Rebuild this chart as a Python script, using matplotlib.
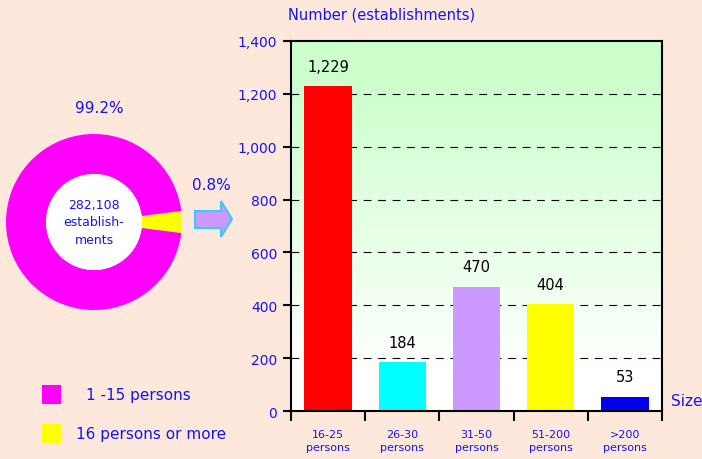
#necessary import statements
import numpy as np
import matplotlib.pyplot as plt
from matplotlib.patches import Rectangle, Polygon, Circle

#chart data
size_groups = ["16-25\npersons", "26-30\npersons", "31-50\npersons", "51-200\npersons", ">200\npersons"]
establishments = [1229, 184, 470, 404, 53]
bar_colors = ["#FF0000", "#00FFFF", "#CC99FF", "#FFFF00", "#0000EE"]

pie_groups = ["16 persons or more", "1 -15 persons"]
pie_labels = ["0.8%", "99.2%"]
pie_drawn = [4.0, 96.0]   # the slice is drawn larger than 0.8% in the picture
pie_colors = ["#FFFF00", "#FF00FF"]
total_text = "282,108\nestablish-\nments"

y_ticks = [0, 200, 400, 600, 800, 1000, 1200, 1400]

BG = "#FDE8DB"
BLUE = "#1414F5"
W, H = 702, 460

def fx(px):
    return px / W

def fy(py):
    return 1 - py / H

fig = plt.figure(figsize=(7.02, 4.6), dpi=100, facecolor=BG)

#bar chart
ax = fig.add_axes([fx(291), fy(412), fx(662) - fx(291), fy(42) - fy(412)])
x = np.arange(len(establishments))
grad = np.linspace(0, 1, 256).reshape(-1, 1)
green = np.array([204, 255, 204]) / 255
white = np.array([1.0, 1.0, 1.0])
t = np.clip((grad - 0.1) / 0.8, 0, 1)
img = white * (1 - t[..., None]) + green * t[..., None]
img = img.reshape(256, 1, 3)
ax.imshow(img, extent=[-0.5, len(x) - 0.5, 0, 1400], origin="lower", aspect="auto", zorder=0)

for yv in y_ticks[1:-1]:
    ax.axhline(yv, color="black", lw=0.8, ls=(0, (7, 6)), zorder=1)

ax.bar(x, establishments, width=0.64, color=bar_colors, zorder=2)
for xi, v in zip(x, establishments):
    ax.annotate(f"{v:,}", (xi, v), xytext=(0, 9), textcoords="offset points",
                ha="center", va="bottom", fontsize=10.5, color="black")

ax.set_xlim(-0.5, len(x) - 0.5)
ax.set_ylim(0, 1400)
ax.set_yticks(y_ticks)
ax.set_yticklabels([f"{v:,}" for v in y_ticks], color=BLUE, fontsize=10)
ax.tick_params(axis="y", length=6, width=1.5, pad=4)
ax.set_xticks(np.arange(len(x) + 1) - 0.5)
ax.set_xticklabels([])
ax.tick_params(axis="x", which="major", length=7, width=1.5, direction="out")
ax.set_xticks(x, minor=True)
ax.set_xticklabels(size_groups, minor=True, color=BLUE, fontsize=8, linespacing=1.4)
ax.tick_params(axis="x", which="minor", length=0, pad=13)
for s in ax.spines.values():
    s.set_linewidth(1.5)
    s.set_color("black")

fig.text(fx(288), fy(15), "Number (establishments)", color=BLUE, fontsize=10.5, va="center", ha="left")
fig.text(fx(671), fy(402), "Size", color=BLUE, fontsize=11, va="center", ha="left")

#donut chart
cx, cy, r = 94, 223, 90
axp = fig.add_axes([fx(cx - r), fy(cy + r), fx(2 * r), fy(cy - r) - fy(cy + r)])
axp.pie(pie_drawn, colors=pie_colors, startangle=-pie_drawn[0] * 3.6 / 2, counterclock=True,
        radius=88 / 90, wedgeprops=dict(width=40 / 90, edgecolor="none"))
axp.add_patch(Circle((0, 0), 48 / 90, facecolor="white", edgecolor="none", zorder=3))
axp.set_xlim(-1, 1)
axp.set_ylim(-1, 1)
axp.set_aspect("equal")
axp.axis("off")
axp.text(0, 0, total_text, ha="center", va="center", color=BLUE, fontsize=9, linespacing=1.45, zorder=4)

fig.text(fx(99), fy(109), pie_labels[1], color=BLUE, fontsize=11, ha="center", va="center")
fig.text(fx(211), fy(185), pie_labels[0], color=BLUE, fontsize=11, ha="center", va="center")

#arrow pointing to the bars
arrow_px = [(195, 212), (221, 212), (221, 202), (232, 220), (221, 238), (221, 229), (195, 229)]
fig.patches.append(Polygon([(fx(a), fy(b)) for a, b in arrow_px], closed=True,
                           facecolor="#CC99FF", edgecolor="#33CCFF", lw=1.5,
                           transform=fig.transFigure, figure=fig))

#legend
legend_rows = [(pie_groups[1], pie_colors[1], 396, 86), (pie_groups[0], pie_colors[0], 435, 76)]
for label, col, yc, tx in legend_rows:
    fig.patches.append(Rectangle((fx(42), fy(yc + 9)), fx(19), fy(yc - 10) - fy(yc + 9),
                                 facecolor=col, edgecolor="none",
                                 transform=fig.transFigure, figure=fig))
    fig.text(fx(tx), fy(yc), label, color=BLUE, fontsize=11, ha="left", va="center")

fig.savefig("out.png", dpi=100, facecolor=BG)
